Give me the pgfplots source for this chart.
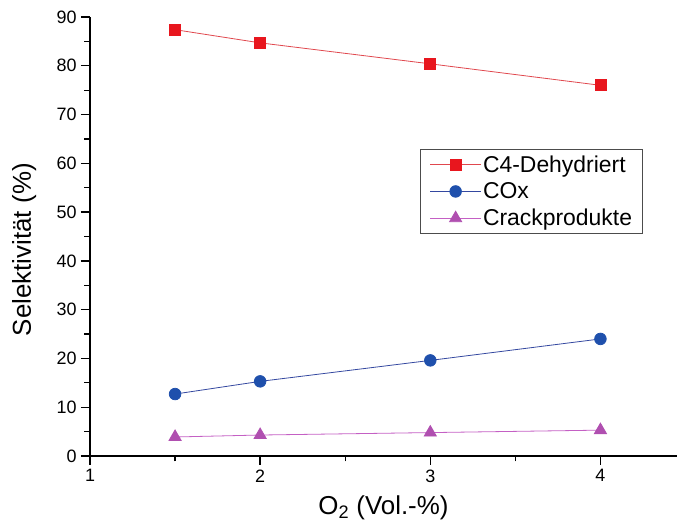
\documentclass[border=0pt]{standalone}
\usepackage{fontspec}
\setmainfont{Liberation Sans}
\usepackage{pgfplots}
\pgfplotsset{compat=1.18}
\definecolor{cred}{HTML}{E8161E}
\definecolor{credl}{HTML}{E0484E}
\definecolor{cblue}{HTML}{1F50AC}
\definecolor{cbluel}{HTML}{3448A0}
\definecolor{cmag}{HTML}{B04FB0}
\definecolor{cmagl}{HTML}{C460C4}
\begin{document}
\begin{tikzpicture}
\begin{axis}[
  scale only axis,
  width=587bp, height=439bp,
  at={(90bp,71bp)}, anchor=south west,
  xmin=1, xmax=4.45, ymin=0, ymax=90,
  axis x line*=bottom, axis y line*=left,
  axis line style={line width=1.4bp},
  xtick={1,2,3,4}, ytick={0,10,...,90},
  minor x tick num=1, minor y tick num=1,
  tick align=outside,
  major tick length=9bp, minor tick length=5.5bp,
  every tick/.style={line width=1.3bp, black},
  /pgf/number format/assume math mode=true,
  ticklabel style={font=\fontsize{18}{21}\selectfont},
  xticklabel style={yshift=-1bp},
  yticklabel style={xshift=-1bp},
  xlabel={O\textsubscript{2} (Vol.-\%)},
  ylabel={Selektivität (\%)},
  label style={font=\fontsize{26}{30}\selectfont},
  xlabel style={at={(axis description cs:0.5,-0.133)}, anchor=base},
  ylabel style={at={(axis description cs:-0.112,0.47)}, anchor=center},
  legend style={at={(0.942,0.70)}, anchor=north east, draw=black!70, line width=0.8bp,
    font=\fontsize{23}{26}\selectfont, row sep=6bp, inner xsep=9bp, inner ysep=5bp,
    nodes={inner sep=1.5bp}},
  legend cell align=left,
  legend image code/.code={\draw[mark repeat=2,mark phase=2] plot coordinates {(0cm,0cm) (0.9cm,0cm) (1.8cm,0cm)};},
  clip=false,
]
\addplot[credl, line width=0.8bp, mark=square*, mark size=5.5bp, mark options={cred, fill=cred}]
  coordinates {(1.5,87.4) (2,84.7) (3,80.4) (4,76.0)};
\addlegendentry{C4-Dehydriert}
\addplot[cbluel, line width=0.8bp, mark=*, mark size=5.8bp, mark options={cblue, fill=cblue}]
  coordinates {(1.5,12.7) (2,15.3) (3,19.6) (4,24.0)};
\addlegendentry{COx}
\addplot[cmagl, line width=0.8bp, mark=triangle*, mark size=7bp, mark options={cmag, fill=cmag}]
  coordinates {(1.5,3.9) (2,4.3) (3,4.8) (4,5.3)};
\addlegendentry{Crackprodukte}
\end{axis}
\pgfresetboundingbox
\path (0,0) rectangle (677bp,527bp);
\end{tikzpicture}
\end{document}
